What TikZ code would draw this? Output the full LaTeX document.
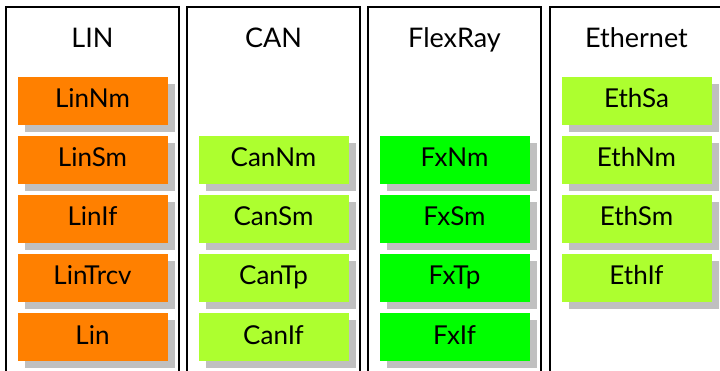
\documentclass[tikz,border=0pt]{standalone}
\usepackage{fontspec}
\setmainfont{Lato}
\usetikzlibrary{positioning,shadows}
\definecolor{linorange}{RGB}{255,128,0}
\definecolor{canlime}{RGB}{173,255,47}
\definecolor{fxgreen}{RGB}{0,255,0}
\definecolor{shadowgray}{RGB}{192,192,192}
\tikzstyle{bus}=[rectangle,draw=black,line width=1.5pt,outer sep=0pt,inner sep=0pt,minimum width=173pt,minimum height=380pt]
\tikzstyle{header}=[anchor=base,font=\fontsize{27}{30}\selectfont]
\tikzstyle{module}=[rectangle,outer sep=0pt,inner sep=0pt,minimum width=150pt,minimum height=48pt,text height=19pt,text depth=5pt,font=\fontsize{26}{30}\selectfont,drop shadow={shadow xshift=7pt,shadow yshift=-7pt,fill=shadowgray,opacity=1}]
\tikzstyle{lin}=[module,fill=linorange]
\tikzstyle{can}=[module,fill=canlime]
\tikzstyle{fx}=[module,fill=fxgreen]

\begin{document}
\begin{tikzpicture}[x=1pt,y=-1pt]
    \useasboundingbox (0,0) rectangle (720,371);
    \clip (0,0) rectangle (720,371);

    % Spalten
    \node[bus,anchor=north west] (linbus) at (6,7) {};
    \node[bus,right=8pt of linbus] (canbus) {};
    \node[bus,right=8pt of canbus] (fxbus) {};
    \node[bus,right=9pt of fxbus,minimum width=190pt] (ethbus) {};

    % Ueberschriften
    \node[header] (linhead) at ([yshift=-41pt]linbus.north) {LIN};
    \node[header] (canhead) at ([yshift=-41pt]canbus.north) {CAN};
    \node[header] (fxhead) at ([yshift=-41pt]fxbus.north) {FlexRay};
    \node[header] (ethhead) at ([xshift=-8.5pt,yshift=-41pt]ethbus.north) {Ethernet};

    % Module LIN
    \node[lin] (linnm) [below=70pt of linbus.north] {LinNm};
    \node[lin] (linsm) [below=11pt of linnm] {LinSm};
    \node[lin] (linif) [below=11pt of linsm] {LinIf};
    \node[lin] (lintrcv) [below=11pt of linif] {LinTrcv};
    \node[lin] (linmod) [below=11pt of lintrcv] {Lin};

    % Module CAN
    \node[can] (cannm) [below=129pt of canbus.north] {CanNm};
    \node[can] (cansm) [below=11pt of cannm] {CanSm};
    \node[can] (cantp) [below=11pt of cansm] {CanTp};
    \node[can] (canif) [below=11pt of cantp] {CanIf};

    % Module FlexRay
    \node[fx] (fxnm) [below=129pt of fxbus.north] {FxNm};
    \node[fx] (fxsm) [below=11pt of fxnm] {FxSm};
    \node[fx] (fxtp) [below=11pt of fxsm] {FxTp};
    \node[fx] (fxif) [below=11pt of fxtp] {FxIf};

    % Module Ethernet
    \node[can] (ethsa) [below=70pt of ethbus.north,xshift=-8.5pt] {EthSa};
    \node[can] (ethnm) [below=11pt of ethsa] {EthNm};
    \node[can] (ethsm) [below=11pt of ethnm] {EthSm};
    \node[can] (ethif) [below=11pt of ethsm] {EthIf};

\end{tikzpicture}
\end{document}
